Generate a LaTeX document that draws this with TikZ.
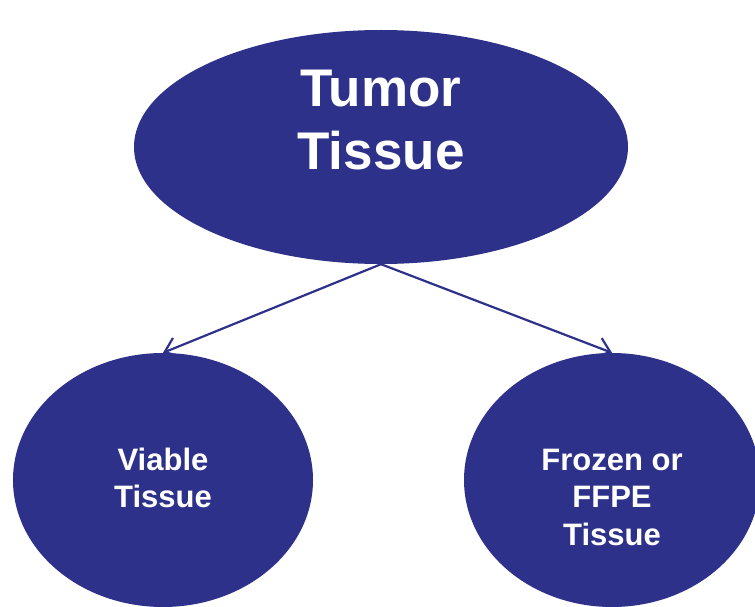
\documentclass[tikz,border=0pt]{standalone}
\usepackage{fontspec}
\setmainfont{Liberation Sans}
\usetikzlibrary{shapes.geometric, arrows.meta, positioning}

\definecolor{tissueblue}{HTML}{2E3189}

\begin{document}
\begin{tikzpicture}[
        x=1pt, y=-1pt,
        blob/.style={ellipse, fill=tissueblue, inner sep=0pt},
        bigtext/.style={text=white, align=center, font=\fontsize{53}{63}\selectfont\bfseries},
        smalltext/.style={text=white, align=center, font=\fontsize{31}{37.5}\selectfont\bfseries},
        arrow/.style={-{Straight Barb[length=13pt, width=20pt]}, line width=2.2pt, draw=tissueblue}
    ]
        \useasboundingbox (0,0) rectangle (755,607);
        \node[blob, minimum width=494pt, minimum height=234pt] (tumor) at (381,147) {};
        \node[blob, minimum width=300pt, minimum height=254pt] (viable) at (163,480) {};
        \node[blob, minimum width=296pt, minimum height=254pt] (frozen) at (612,480) {};

        \node[bigtext] (tumortext) at (381,120) {Tumor\\Tissue};
        \node[smalltext] (viabletext) at (163,478) {Viable\\Tissue};
        \node[smalltext] (frozentext) at (612,497) {Frozen or\\FFPE\\Tissue};

        \draw[arrow] (tumor.south) -- (viable.north);
        \draw[arrow] (tumor.south) -- (frozen.north);
    \end{tikzpicture}
\end{document}
